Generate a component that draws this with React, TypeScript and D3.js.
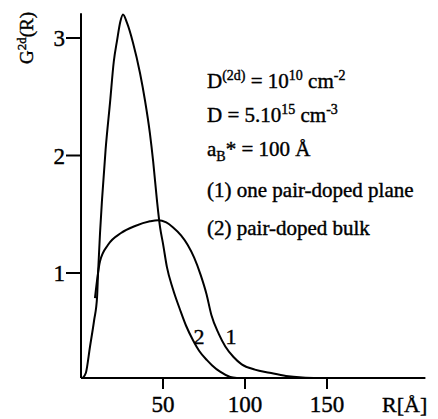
import React from "react";
import * as d3 from "d3";

// curve (1): one pair-doped plane  [R in Å, G2d]
const planeR = [8.5, 11.6, 16.5, 24.4, 33, 42, 47, 52, 56, 61, 65, 69, 73, 76.5, 79.5, 84, 88, 93, 98, 106, 115, 125, 135, 145];
const planeG = [0.76, 1.1, 1.24, 1.34, 1.4, 1.44, 1.45, 1.43, 1.39, 1.32, 1.24, 1.13, 0.98, 0.8, 0.6, 0.42, 0.3, 0.2, 0.13, 0.08, 0.05, 0.02, 0.005, 0];

// curve (2): pair-doped bulk
const bulkR = [1, 3, 5.5, 8, 9.8, 10.4, 11.6, 12.8, 15, 17.7, 20, 22, 24, 25.6, 28, 31.7, 36, 39, 42, 44, 46.3, 48.2, 50, 52.4, 56, 60.4, 64, 68.3, 72, 76.8, 80, 84.8, 91, 95];
const bulkG = [0, 0.05, 0.3, 0.55, 0.77, 1.0, 1.34, 1.62, 2.05, 2.45, 2.8, 2.98, 3.14, 3.2, 3.13, 2.96, 2.7, 2.47, 2.19, 1.95, 1.62, 1.39, 1.25, 1.05, 0.85, 0.65, 0.5, 0.36, 0.26, 0.17, 0.12, 0.06, 0.01, 0];

const xTicks = [50, 100, 150];
const yTicks = [1, 2, 3];

const W = 438;
const H = 419;
const font = '"Times New Roman", Times, "Liberation Serif", "Noto Serif", serif';

export default function App() {
  const x = d3.scaleLinear().domain([0, 50]).range([81, 163]);
  // the scanned axis is not quite linear near zero, so use a piecewise scale
  const y = d3.scaleLinear().domain([0, 1, 3]).range([378, 273, 38]);

  const line = d3
    .line<[number, number]>()
    .x((d) => x(d[0]))
    .y((d) => y(d[1]))
    .curve(d3.curveMonotoneX);

  const plane = planeR.map((r, i) => [r, planeG[i]] as [number, number]);
  const bulk = bulkR.map((r, i) => [r, bulkG[i]] as [number, number]);

  const x0 = x(0);
  const y0 = y(0);

  return (
    <svg
      width={W}
      height={H}
      style={{ position: "absolute", left: 0, top: 0, background: "#fff", fontFamily: font }}
    >
      {/* axes */}
      <line x1={x0} y1={y0} x2={x0} y2={y(3.21)} stroke="#000" strokeWidth={2} />
      <line x1={x0} y1={y0} x2={x(210)} y2={y0} stroke="#000" strokeWidth={2} />

      <g fill="#000" stroke="#000" strokeWidth={0.4}>
        {yTicks.map((t) => (
          <g key={"y" + t}>
            <line x1={x0 - 15} x2={x0} y1={y(t)} y2={y(t)} strokeWidth={2} />
            <text x={x0 - 16} y={y(t)} dy="0.35em" textAnchor="end" fontSize={23}>
              {t}
            </text>
          </g>
        ))}
        {xTicks.map((t) => (
          <g key={"x" + t}>
            <line x1={x(t)} x2={x(t)} y1={y0} y2={y0 + 11} strokeWidth={2} />
            <text x={x(t)} y={412} textAnchor="middle" fontSize={23}>
              {t}
            </text>
          </g>
        ))}

        <text x={382} y={412} fontSize={22}>
          R[Å]
        </text>

        <text transform="translate(33,64) rotate(-90)" fontSize={19}>
          G<tspan dy={-7} fontSize={13}>2d</tspan>
          <tspan dy={7}>(R)</tspan>
        </text>

        <text x={199} y={344} textAnchor="middle" fontSize={22}>2</text>
        <text x={231} y={344} textAnchor="middle" fontSize={22}>1</text>

        {/* annotation */}
        <g fontSize={21}>
          <text x={207} y={88}>
            D<tspan dy={-8} fontSize={14}>(2d)</tspan>
            <tspan dy={8}> = 10</tspan>
            <tspan dy={-8} fontSize={14}>10</tspan>
            <tspan dy={8}> cm</tspan>
            <tspan dy={-8} fontSize={14}>-2</tspan>
          </text>
          <text x={207} y={122}>
            D = 5.10<tspan dy={-8} fontSize={14}>15</tspan>
            <tspan dy={8}> cm</tspan>
            <tspan dy={-8} fontSize={14}>-3</tspan>
          </text>
          <text x={207} y={156}>
            a<tspan dy={5} fontSize={14}>B</tspan>
            <tspan dy={-5}>* = 100 Å</tspan>
          </text>
          <text x={207} y={197}>(1) one pair-doped plane</text>
          <text x={207} y={235}>(2) pair-doped bulk</text>
        </g>
      </g>

      {/* curves */}
      <path d={line(plane) ?? ""} fill="none" stroke="#000" strokeWidth={2} />
      <path d={line(bulk) ?? ""} fill="none" stroke="#000" strokeWidth={2} />
    </svg>
  );
}
